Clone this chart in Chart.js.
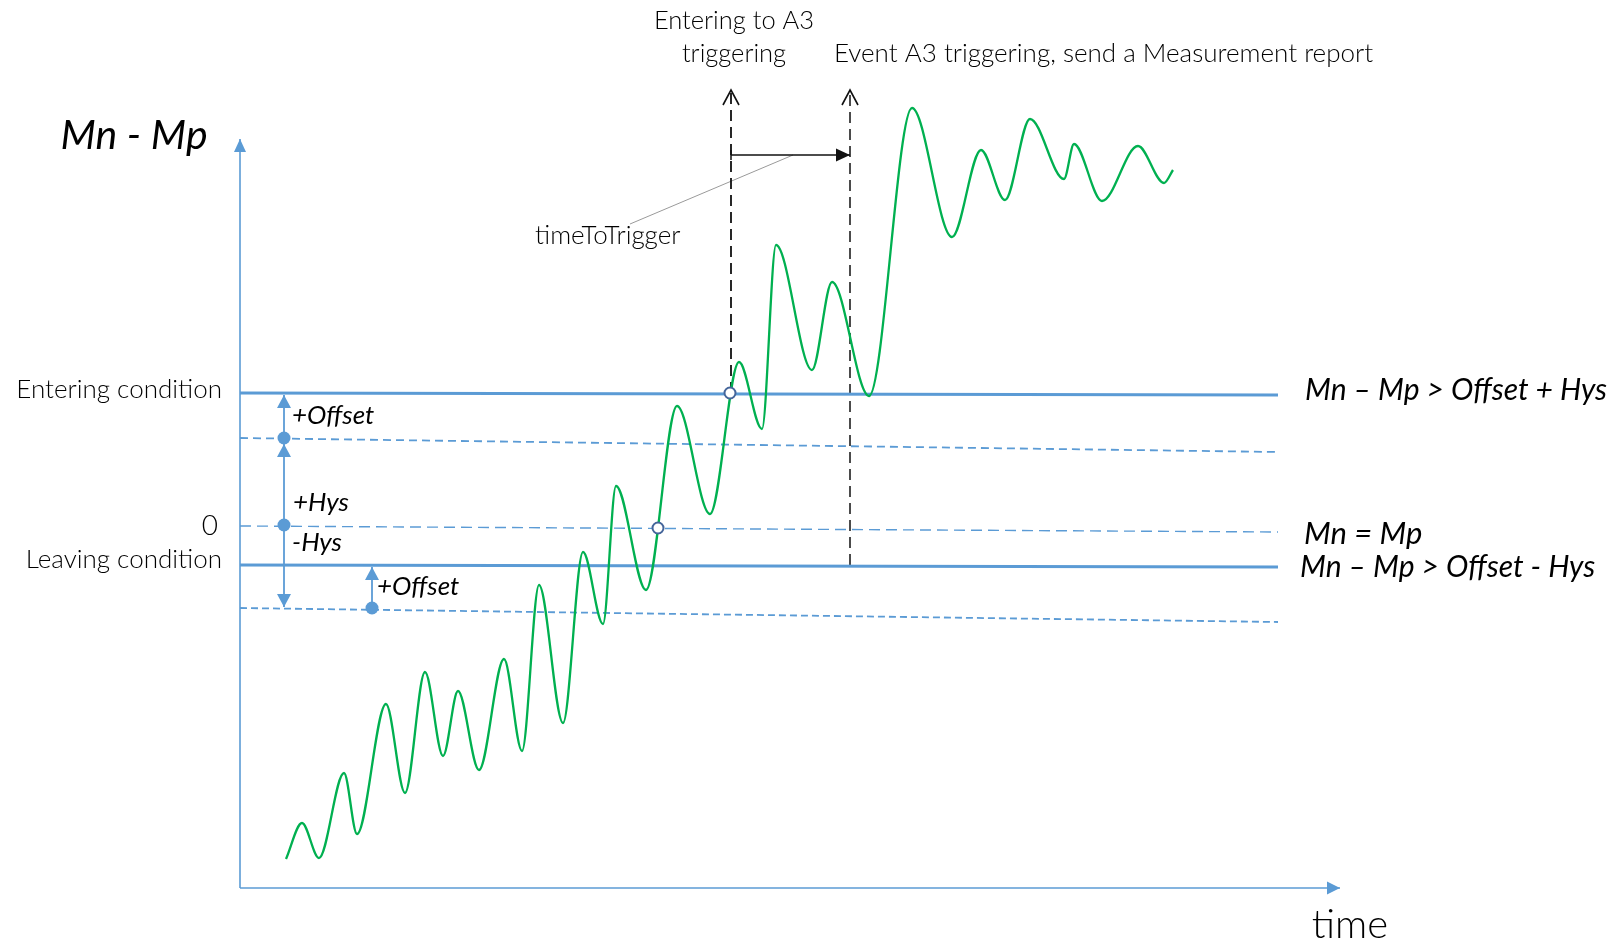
<!DOCTYPE html>
<html>
<head>
<meta charset="utf-8">
<script src="https://cdn.jsdelivr.net/npm/chart.js@4.4.1/dist/chart.umd.min.js"></script>
<style>
  html, body { margin: 0; padding: 0; background: #fff; }
  canvas { display: block; }
</style>
</head>
<body>
<canvas id="chart" width="1616" height="944"></canvas>
<script>
// Mn - Mp signal, turning points (time, value)
const curveTime  = [46, 62, 79, 104, 117, 146, 165, 185, 203, 218, 239, 264, 282, 299, 323, 343, 363, 376, 406, 437, 470, 499, 522, 536, 572, 592, 629, 672, 712, 741, 765, 790, 824, 834, 862, 898, 924, 933];
const curveValue = [-333, -297, -332, -247, -308, -178, -267, -146, -230, -165, -244, -133, -225, -59, -197, -26, -98, 40, -64, 120, 12, 164, 97, 281, 156, 244, 130, 418, 289, 376, 326, 407, 347, 382, 325, 380, 343, 356];

// threshold lines, value at start and end
const lineTime      = [0, 1038];
const enteringLevel = [133, 131];
const offsetLevel   = [88, 74];
const zeroLevel     = [0, -6];
const leavingLevel  = [-39, -41];
const lowLevel      = [-82, -96];

// axes
const axisTime  = [0, 1100];
const axisValue = [-362, 387];

// events
const enterTime   = 491;
const triggerTime = 610;
const eventTop    = 436;
const tttValue    = 371;
const crossTime   = [490, 418];
const crossValue  = [133, -2];

// hysteresis / offset markers
const markerTime  = [44, 44, 132];
const markerValue = [88, 1, -82];

const blue = '#5b9bd5';
const green = '#00b050';

function pts(xs, ys) { return xs.map((x, i) => ({ x: x, y: ys[i] })); }

function line(data, color, width, dash, extra) {
  return Object.assign({
    data: data, showLine: true, borderColor: color, borderWidth: width,
    borderDash: dash || [], pointRadius: 0, fill: false, order: 3
  }, extra || {});
}

const datasets = [
  // open circles where curve crosses
  { data: pts(crossTime, crossValue), showLine: false, pointRadius: 5.5, pointBorderWidth: 2,
    pointBackgroundColor: '#fff', pointBorderColor: '#44659a', order: 0 },
  // blue dots
  { data: pts(markerTime, markerValue), showLine: false, pointRadius: 6.5, pointBorderWidth: 0,
    pointBackgroundColor: blue, order: 1 },
  // the signal
  line(pts(curveTime, curveValue), green, 2.3, null, { cubicInterpolationMode: 'monotone', order: 2 }),

  line(pts(lineTime, enteringLevel), blue, 3),
  line(pts(lineTime, leavingLevel), blue, 3),
  line(pts(lineTime, offsetLevel), blue, 1.8, [8, 5]),
  line(pts(lineTime, zeroLevel), blue, 1.4, [11, 6]),
  line(pts(lineTime, lowLevel), blue, 1.8, [7, 4]),

  // axes
  line(pts([axisTime[0], axisTime[0]], axisValue), blue, 1.6, null, { arrow: { len: 13, half: 6 } }),
  line(pts(axisTime, [axisValue[0], axisValue[0]]), blue, 1.6, null, { arrow: { len: 13, half: 6.5 } }),

  // hysteresis arrows
  line(pts([markerTime[0], markerTime[0]], [offsetLevel[0], enteringLevel[0] - 2]), blue, 1.8, null, { arrow: { len: 13, half: 7 } }),
  line(pts([markerTime[1], markerTime[1]], [markerValue[1], offsetLevel[0] - 6]), blue, 1.8, null, { arrow: { len: 13, half: 7 } }),
  line(pts([markerTime[1], markerTime[1]], [markerValue[1], lowLevel[0] + 1]), blue, 1.8, null, { arrow: { len: 13, half: 7 } }),
  line(pts([markerTime[2], markerTime[2]], [markerValue[2], leavingLevel[0] - 2]), blue, 1.8, null, { arrow: { len: 13, half: 7 } }),

  // event lines
  line(pts([enterTime, enterTime], [enteringLevel[0], eventTop]), '#111', 1.8, [11, 6], { arrow: { len: 15, half: 8, open: true } }),
  line(pts([triggerTime, triggerTime], [leavingLevel[0], eventTop]), '#111', 1.5, [11, 6], { arrow: { len: 15, half: 8, open: true } }),
  line(pts([enterTime, triggerTime], [tttValue, tttValue]), '#111', 1.5, null, { arrow: { len: 14, half: 6.5 } }),
  line(pts([enterTime, enterTime], [tttValue + 5, tttValue - 5]), '#111', 1.5),
  // leader to timeToTrigger
  line(pts([390, 553], [302, 371]), '#9a9a9a', 1)
];

// text labels
const labelText  = ['Mn - Mp', 'time', 'Entering condition', '0', 'Leaving condition',
  '+Offset', '+Hys', '-Hys', '+Offset',
  'Mn \u2013 Mp > Offset + Hys', 'Mn = Mp', 'Mn \u2013 Mp > Offset - Hys',
  'Entering to A3', 'triggering', 'Event A3 triggering, send a Measurement report', 'timeToTrigger'];
const labelTime  = [-106, 1110, -18, -22, -18, 52, 53, 52, 137, 1065, 1064, 1060, 494, 494, 594, 295];
const labelValue = [390, -399, 136, 0, -34, 110, 23, -17, -61, 136, -8, -41, 505, 472, 472, 290];

const labelFont = [
  'italic 400 41px Lato', '300 40px Lato', '300 26px Lato', '300 28px Lato', '300 26px Lato',
  'italic 400 26px Lato', 'italic 400 26px Lato', 'italic 400 26px Lato', 'italic 400 26px Lato',
  'italic 400 30px Lato', 'italic 400 31px Lato', 'italic 400 30px Lato',
  '300 25.5px Lato', '300 25.5px Lato', '300 26px Lato', '300 26px Lato'];
const labelAlign = ['center', 'center', 'right', 'right', 'right', 'left', 'left', 'left', 'left',
  'left', 'left', 'left', 'center', 'center', 'left', 'left'];

const arrowHeads = {
  id: 'arrowHeads',
  afterDatasetsDraw(chart) {
    const ctx = chart.ctx;
    chart.data.datasets.forEach((ds, i) => {
      if (!ds.arrow) return;
      const p = chart.getDatasetMeta(i).data;
      const a = p[p.length - 2], b = p[p.length - 1];
      const ang = Math.atan2(b.y - a.y, b.x - a.x);
      ctx.save();
      ctx.translate(b.x, b.y);
      ctx.rotate(ang);
      ctx.beginPath();
      ctx.moveTo(-ds.arrow.len, -ds.arrow.half);
      ctx.lineTo(0, 0);
      ctx.lineTo(-ds.arrow.len, ds.arrow.half);
      if (ds.arrow.open) {
        ctx.strokeStyle = ds.borderColor;
        ctx.lineWidth = 1.6;
        ctx.stroke();
      } else {
        ctx.closePath();
        ctx.fillStyle = ds.borderColor;
        ctx.fill();
      }
      ctx.restore();
    });
  }
};

const labels = {
  id: 'labels',
  afterDraw(chart) {
    const ctx = chart.ctx;
    const xs = chart.scales.x, ys = chart.scales.y;
    ctx.save();
    ctx.fillStyle = '#000';
    ctx.textBaseline = 'middle';
    labelText.forEach((t, i) => {
      ctx.font = labelFont[i];
      ctx.textAlign = labelAlign[i];
      ctx.fillText(t, xs.getPixelForValue(labelTime[i]), ys.getPixelForValue(labelValue[i]));
    });
    ctx.restore();
  }
};

new Chart(document.getElementById('chart'), {
  type: 'scatter',
  data: { datasets: datasets },
  options: {
    responsive: false,
    animation: false,
    events: [],
    layout: { padding: 0, autoPadding: false },
    plugins: { legend: { display: false }, tooltip: { enabled: false } },
    scales: {
      x: { type: 'linear', min: -240, max: 1376, display: false },
      y: { type: 'linear', min: -418, max: 526, display: false }
    }
  },
  plugins: [arrowHeads, labels]
});
</script>
</body>
</html>
